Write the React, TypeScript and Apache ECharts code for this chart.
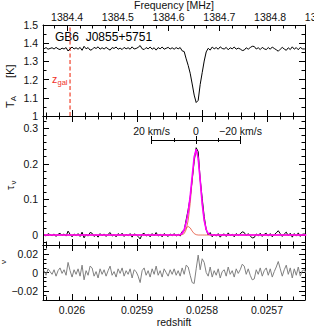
import React, { useEffect, useRef } from 'react';
import * as echarts from 'echarts';

// ---- reference redshifts / frame ----
const C_KMS = 299792.458;
const Z_LEFT = 0.0260446; // redshift at left frame edge
const Z_RIGHT = 0.0256415; // redshift at right frame edge
const FREQ_LEFT = 1384.3525; // MHz at left frame edge
const FREQ_RIGHT = 1384.8687; // MHz at right frame edge
const Z_FIRST = 0.026043; // first channel
const Z_STEP = 0.00000308; // channel width in redshift
const Z_GAL = 0.026003;
const Z_LINE = 0.0258092; // velocity zero

// ---- spectra (one value per channel) ----
const T_ANT = [
  1.369, 1.376, 1.367, 1.371, 1.375, 1.368, 1.377, 1.369, 1.365, 1.373,
  1.368, 1.376, 1.357, 1.369, 1.379, 1.368, 1.375, 1.367, 1.377, 1.361,
  1.383, 1.369, 1.376, 1.362, 1.365, 1.377, 1.371, 1.380, 1.367, 1.375,
  1.368, 1.377, 1.369, 1.362, 1.376, 1.371, 1.379, 1.367, 1.373, 1.365,
  1.377, 1.369, 1.375, 1.367, 1.380, 1.368, 1.371, 1.377, 1.387, 1.369,
  1.365, 1.376, 1.369, 1.379, 1.367, 1.375, 1.362, 1.376, 1.369, 1.379,
  1.367, 1.372, 1.377, 1.368, 1.375, 1.367, 1.376, 1.369, 1.376, 1.358,
  1.354, 1.314, 1.278, 1.235, 1.176, 1.115, 1.074, 1.086, 1.173, 1.238,
  1.302, 1.352, 1.372, 1.362, 1.379, 1.369, 1.376, 1.367, 1.380, 1.371,
  1.368, 1.377, 1.364, 1.375, 1.369, 1.379, 1.367, 1.373, 1.368, 1.360,
  1.362, 1.375, 1.367, 1.376, 1.383, 1.382, 1.368, 1.375, 1.365, 1.377,
  1.369, 1.365, 1.376, 1.367, 1.379, 1.371, 1.364, 1.356, 1.367, 1.377,
  1.368, 1.361, 1.375, 1.365, 1.380, 1.367, 1.376, 1.364, 1.377, 1.369,
  1.368, 1.373,
];

const TAU = [
  0.002, -0.003, 0.004, 0.001, -0.002, 0.003, -0.004, 0.002, 0.005, -0.001,
  0.003, -0.003, 0.011, 0.002, -0.005, 0.003, -0.002, 0.004, -0.004, 0.008,
  -0.008, 0.002, -0.003, 0.007, 0.005, -0.004, 0.001, -0.006, 0.004, -0.002,
  0.003, -0.004, 0.002, 0.007, -0.003, 0.001, -0.005, 0.004, -0.001, 0.005,
  -0.004, 0.002, -0.002, 0.004, -0.006, 0.003, 0.001, -0.004, -0.011, 0.002,
  0.005, -0.003, 0.002, -0.005, 0.004, -0.002, 0.007, -0.003, 0.002, -0.005,
  0.004, 0.0, -0.004, 0.003, -0.002, 0.004, -0.003, 0.002, -0.003, 0.01,
  0.013, 0.043, 0.071, 0.105, 0.154, 0.207, 0.245, 0.234, 0.157, 0.103,
  0.052, 0.015, 0.0, 0.007, -0.005, 0.002, -0.003, 0.004, -0.006, 0.001,
  0.003, -0.004, 0.006, -0.002, 0.002, -0.005, 0.004, -0.001, 0.003, 0.009,
  0.007, -0.002, 0.004, -0.003, -0.008, -0.007, 0.003, -0.002, 0.005, -0.004,
  0.002, 0.005, -0.003, 0.004, -0.005, 0.001, 0.006, 0.012, 0.004, -0.004,
  0.003, 0.008, -0.002, 0.005, -0.006, 0.004, -0.003, 0.006, -0.004, 0.002,
  0.003, -0.001,
];

const RESID = [
  0.002, -0.003, 0.004, 0.001, -0.002, 0.003, -0.004, 0.002, 0.005, -0.001,
  0.003, -0.003, 0.011, 0.002, -0.005, 0.003, -0.002, 0.004, -0.004, 0.008,
  -0.008, 0.002, -0.003, 0.007, 0.005, -0.004, 0.001, -0.006, 0.004, -0.002,
  0.003, -0.004, 0.002, 0.007, -0.003, 0.001, -0.005, 0.004, -0.001, 0.005,
  -0.004, 0.002, -0.002, 0.004, -0.006, 0.003, 0.001, -0.004, -0.011, 0.002,
  0.005, -0.003, 0.002, -0.005, 0.004, -0.002, 0.007, -0.003, 0.002, -0.005,
  0.004, 0.0, -0.004, 0.003, -0.002, 0.004, -0.003, 0.002, -0.004, 0.005,
  -0.002, 0.008, 0.006, -0.003, -0.011, -0.012, 0.004, 0.019, 0.003, 0.015,
  0.011, 0.0, -0.004, 0.006, -0.005, 0.002, -0.003, 0.004, -0.006, 0.001,
  0.003, -0.004, 0.006, -0.002, 0.002, -0.005, 0.004, -0.001, 0.003, 0.009,
  0.007, -0.002, 0.004, -0.003, -0.008, -0.007, 0.003, -0.002, 0.005, -0.004,
  0.002, 0.005, -0.003, 0.004, -0.005, 0.001, 0.006, 0.012, 0.004, -0.004,
  0.003, 0.008, -0.002, 0.005, -0.006, 0.004, -0.003, 0.006, -0.004, 0.002,
  0.003, -0.001,
];

// ---- Gaussian fit curves (channel index + value) ----
const FIT_CHANNELS = [0, 66, 67, 68, 69, 70, 71, 72, 73, 74, 75, 76, 77, 78, 79, 80, 81, 82, 83, 84, 131];
const FIT_TOTAL = [0, 0, 0, 0.001, 0.005, 0.015, 0.035, 0.065, 0.108, 0.165, 0.219, 0.241, 0.215, 0.154, 0.088, 0.041, 0.015, 0.004, 0.001, 0, 0];
const FIT_MAIN = [0, 0, 0, 0, 0.001, 0.004, 0.015, 0.041, 0.088, 0.154, 0.215, 0.24, 0.215, 0.154, 0.088, 0.041, 0.015, 0.004, 0.001, 0, 0];
const FIT_WING = [0, 0, 0, 0.001, 0.004, 0.011, 0.02, 0.024, 0.02, 0.011, 0.004, 0.001, 0, 0, 0, 0, 0, 0, 0, 0, 0];

// ---- ticks ----
const REDSHIFT_TICKS = [0.026, 0.0259, 0.0258, 0.0257];
const FREQ_TICKS = [1384.4, 1384.5, 1384.6, 1384.7, 1384.8, 1384.9];
const TA_RANGE = [1, 1.5];
const TA_TICKS = [1, 1.1, 1.2, 1.3, 1.4, 1.5];
const TA_MINOR = [1.05, 1.15, 1.25, 1.35, 1.45];
const TAU_RANGE = [-0.028, 0.334];
const TAU_TICKS = [0, 0.1, 0.2, 0.3];
const TAU_MINOR = [-0.02, 0.02, 0.04, 0.06, 0.08, 0.12, 0.14, 0.16, 0.18, 0.22, 0.24, 0.26, 0.28, 0.32];
const RES_RANGE = [-0.03, 0.03];
const RES_TICKS = [-0.02, 0, 0.02];
const RES_MINOR = [-0.025, -0.015, -0.01, -0.005, 0.005, 0.01, 0.015, 0.025];
const VEL_TICKS = [20, 0, -20];
const VEL_MINOR = [10, -10];

// ---- layout / style ----
const FONT = '"Liberation Sans", Arial, Helvetica, sans-serif';
const INK = '#000';
const LABEL = { color: '#111', fontSize: 10.5, fontFamily: FONT };
const MAJ = 6;
const MIN = 3.5;
const LEFT = 43;
const WIDTH = 262;
const PANELS = [
  { top: 25, height: 91, range: TA_RANGE, ticks: TA_TICKS, minor: TA_MINOR },
  { top: 116, height: 129, range: TAU_RANGE, ticks: TAU_TICKS, minor: TAU_MINOR },
  { top: 245, height: 55, range: RES_RANGE, ticks: RES_TICKS, minor: RES_MINOR },
];

const minus = (s: string) => s.replace('-', '\u2212');

function buildOption() {
  const REDSHIFT = T_ANT.map((_, i) => Z_FIRST - i * Z_STEP);

  const zMinor: number[] = [];
  for (let k = Math.ceil(Z_RIGHT / 2e-5); k <= Math.floor(Z_LEFT / 2e-5); k++) {
    if (k % 5 !== 0) zMinor.push(+(k * 2e-5).toFixed(7));
  }
  // frequency axis runs a little past the right frame so that its last label can sit there
  const fMax = FREQ_TICKS[FREQ_TICKS.length - 1];
  const fWidth = (WIDTH * (fMax - FREQ_LEFT)) / (FREQ_RIGHT - FREQ_LEFT);
  const fMinor: number[] = [];
  for (let m = Math.ceil(FREQ_LEFT * 40); m <= Math.floor(FREQ_RIGHT * 40); m++) {
    if (m % 4 !== 0) fMinor.push(m / 40);
  }

  const grids: any[] = [];
  const xAxes: any[] = [];
  const yAxes: any[] = [];

  const addGrid = (left: number, top: number, width: number, height: number) => {
    grids.push({ left, top, width, height, containLabel: false, outerBoundsMode: 'none', show: false });
    return grids.length - 1;
  };
  const axis = (kind: 'x' | 'y', gridIndex: number, position: string, o: any) => {
    const a: any = {
      type: 'value',
      gridIndex,
      position,
      min: o.min,
      max: o.max,
      inverse: !!o.inverse,
      show: o.show !== false,
      axisLine: { show: !!o.line, onZero: false, lineStyle: { color: INK, width: 1 } },
      axisTick: {
        show: o.ticks !== undefined,
        inside: o.inside !== false,
        length: o.len,
        customValues: o.ticks,
        lineStyle: { color: INK, width: 1 },
      },
      axisLabel: o.labels
        ? { show: true, customValues: o.labels, margin: o.margin ?? 4, formatter: o.fmt, ...LABEL }
        : { show: false },
      splitLine: { show: false },
      minorTick: { show: false },
      axisPointer: { show: false },
    };
    if (o.name) {
      a.name = o.name;
      a.nameLocation = 'middle';
      a.nameGap = o.nameGap;
      a.nameTextStyle = { ...LABEL };
    }
    (kind === 'x' ? xAxes : yAxes).push(a);
    return (kind === 'x' ? xAxes : yAxes).length - 1;
  };
  const hiddenY = (g: number) => yAxes.push({ type: 'value', gridIndex: g, show: false });

  const seriesAxes: { x: number; y: number }[] = [];
  PANELS.forEach((p, pi) => {
    const gM = addGrid(LEFT, p.top, WIDTH, p.height);
    const gm = addGrid(LEFT, p.top, WIDTH, p.height);
    const zOpts = { min: Z_RIGHT, max: Z_LEFT, inverse: true };
    // major grid
    const xb = axis('x', gM, 'bottom', {
      ...zOpts, line: true, len: MAJ, ticks: REDSHIFT_TICKS,
      labels: pi === 2 ? REDSHIFT_TICKS : undefined, margin: 4,
      fmt: (v: number) => String(v),
      name: pi === 2 ? 'redshift' : undefined, nameGap: 16,
    });
    if (pi === 0) axis('x', gM, 'top', { ...zOpts, line: true });
    else axis('x', gM, 'top', { ...zOpts, line: true, len: MAJ, ticks: REDSHIFT_TICKS });
    const yl = axis('y', gM, 'left', {
      min: p.range[0], max: p.range[1], line: true, len: MAJ, ticks: p.ticks,
      labels: p.ticks, margin: 5, fmt: (v: number) => minus(String(v)),
    });
    axis('y', gM, 'right', { min: p.range[0], max: p.range[1], line: true, len: MAJ, ticks: p.ticks });
    // minor grid
    axis('x', gm, 'bottom', { ...zOpts, len: MIN, ticks: zMinor });
    if (pi !== 0) axis('x', gm, 'top', { ...zOpts, len: MIN, ticks: zMinor });
    axis('y', gm, 'left', { min: p.range[0], max: p.range[1], len: MIN, ticks: p.minor });
    axis('y', gm, 'right', { min: p.range[0], max: p.range[1], len: MIN, ticks: p.minor });
    seriesAxes.push({ x: xb, y: yl });
  });

  // frequency axis along the top of the first panel
  const gF = addGrid(LEFT, PANELS[0].top, fWidth, 0);
  axis('x', gF, 'top', {
    min: FREQ_LEFT, max: fMax, len: MAJ, ticks: FREQ_TICKS.filter((f) => f < FREQ_RIGHT),
    labels: FREQ_TICKS, margin: 3, fmt: (v: number) => v.toFixed(1),
  });
  hiddenY(gF);
  const gFm = addGrid(LEFT, PANELS[0].top, fWidth, 0);
  axis('x', gFm, 'top', { min: FREQ_LEFT, max: fMax, len: MIN, ticks: fMinor });
  hiddenY(gFm);

  // velocity scale bar
  const xOf = (z: number) => LEFT + ((Z_LEFT - z) / (Z_LEFT - Z_RIGHT)) * WIDTH;
  const zOfV = (v: number) => Z_LINE + (v / C_KMS) * (1 + Z_LINE);
  const vL = xOf(zOfV(20));
  const vR = xOf(zOfV(-20));
  const velFmt = (v: number) => (v === 0 ? '0' : v > 0 ? `${v} km/s` : `\u2212${-v} km/s`);
  const vg1 = addGrid(vL, 140, vR - vL, 0);
  const vg2 = addGrid(vL, 140, vR - vL, 0);
  const vOpts = { min: -20, max: 20, inverse: true };
  axis('x', vg1, 'top', { ...vOpts, line: true, inside: false, len: 4, ticks: VEL_TICKS, labels: VEL_TICKS, margin: 4, fmt: velFmt });
  axis('x', vg1, 'bottom', { ...vOpts, inside: false, len: 4, ticks: VEL_TICKS });
  axis('x', vg2, 'top', { ...vOpts, inside: false, len: 2, ticks: VEL_MINOR });
  axis('x', vg2, 'bottom', { ...vOpts, inside: false, len: 2, ticks: VEL_MINOR });
  hiddenY(vg1);
  hiddenY(vg2);

  const line = (pi: number, data: number[][], color: string, width: number, extra: any = {}) => ({
    type: 'line',
    xAxisIndex: seriesAxes[pi].x,
    yAxisIndex: seriesAxes[pi].y,
    data,
    symbol: 'none',
    showSymbol: false,
    silent: true,
    clip: true,
    lineStyle: { color, width },
    emphasis: { disabled: true },
    ...extra,
  });

  const fitData = (vals: number[]) => FIT_CHANNELS.map((c, i) => [REDSHIFT[c], vals[i]]);

  const series = [
    line(0, [[Z_GAL, TA_RANGE[0]], [Z_GAL, TA_RANGE[1]]], '#f0402a', 1.2, {
      lineStyle: { color: '#f0402a', width: 1.2, type: [4, 2.5] },
    }),
    line(0, REDSHIFT.map((z, i) => [z, T_ANT[i]]), '#000', 1),
    line(1, REDSHIFT.map((z, i) => [z, TAU[i]]), '#000', 1),
    line(1, fitData(FIT_MAIN), '#e3503a', 0.8),
    line(1, fitData(FIT_WING), '#e3503a', 0.8),
    line(1, fitData(FIT_TOTAL), '#ff00ff', 1.6),
    line(2, REDSHIFT.map((z, i) => [z, RESID[i]]), '#808080', 1),
  ];

  const txt = (x: number, y: number, text: string, size: number, fill: string, extra: any = {}) => ({
    type: 'text',
    x,
    y,
    silent: true,
    style: { text, fontSize: size, fontFamily: FONT, fill, align: 'left', verticalAlign: 'middle', ...extra },
  });

  const graphic = [
    txt(LEFT + WIDTH / 2, -0.5, 'Frequency [MHz]', 10.5, '#111', { align: 'center', verticalAlign: 'top' }),
    txt(55, 37, 'GB6  J0855+5751', 12, '#000'),
    txt(52, 79, 'z', 10.5, '#f0302a'),
    txt(57.5, 82.5, 'gal', 7.5, '#f0302a'),
    {
      type: 'group', x: 10, y: 85, rotation: Math.PI / 2, silent: true,
      children: [
        txt(-23, 0, 'T', 11, '#111'),
        txt(-16.3, 3, 'A', 8, '#111'),
        txt(7, 0, '[K]', 11, '#111'),
      ],
    },
    {
      type: 'group', x: 10, y: 186, rotation: Math.PI / 2, silent: true,
      children: [txt(-4, 0, '\u03c4', 11, '#111'), txt(1.5, 3, '\u03bd', 8, '#111')],
    },
    {
      type: 'group', x: 3, y: 262, rotation: Math.PI / 2, silent: true,
      children: [txt(-2, 0, '\u03bd', 8, '#111')],
    },
  ];

  return {
    animation: false,
    backgroundColor: '#fff',
    textStyle: { fontFamily: FONT },
    tooltip: { show: false },
    grid: grids,
    xAxis: xAxes,
    yAxis: yAxes,
    series,
    graphic,
  };
}

export default function App() {
  const ref = useRef<HTMLDivElement>(null);
  useEffect(() => {
    const chart = echarts.init(ref.current!, undefined, { renderer: 'svg', width: 314, height: 327 });
    chart.setOption(buildOption() as any);
    return () => chart.dispose();
  }, []);
  return (
    <div
      ref={ref}
      style={{ position: 'absolute', left: 0, top: 0, width: 314, height: 327, background: '#fff' }}
    />
  );
}
